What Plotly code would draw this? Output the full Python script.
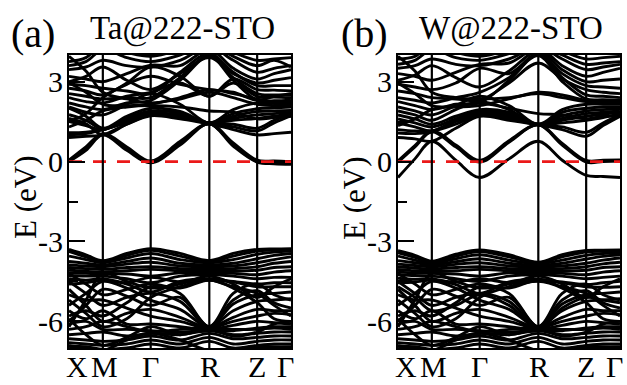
import plotly.graph_objects as go

# ---------------- data ----------------
K_LABELS = ["X", "M", "Γ", "R", "Z", "Γ"]
K_HS = [0.0, 0.5, 1.207, 2.073, 2.780, 3.280]      # high-symmetry k positions
Y_TICKS = [-6, -3, 0, 3]
Y_TICKTEXT = ["-6", "-3", "0", "3"]
Y_MINOR = [-4.5, -1.5, 1.5]
PANEL_TAGS = ["(a)", "(b)"]
PANEL_TITLES = ["Ta@222-STO", "W@222-STO"]
E_FERMI = 0.0

# energies (eV) at X, mid, M, mid, Γ, mid, R, mid, Z, mid, Γ
CB_A = [
    [0.00, 0.42, 1.00, 0.42, -0.05, 0.62, 1.42, 0.58, -0.02, -0.08, -0.10],
    [0.02, 0.48, 1.02, 0.48, -0.02, 0.68, 1.42, 0.64, 0.02, -0.02, -0.04],
    [0.05, 0.55, 1.05, 0.55, 0.02, 0.75, 1.42, 0.70, 0.05, 0.02, 0.00],
    [0.90, 0.95, 1.00, 1.40, 1.72, 1.60, 1.42, 1.30, 1.15, 1.45, 1.72],
    [1.00, 1.05, 1.20, 1.45, 1.75, 1.65, 1.42, 1.20, 1.00, 1.05, 1.10],
    [1.08, 1.10, 1.20, 1.50, 1.78, 1.68, 1.45, 1.40, 1.25, 1.55, 1.78],
    [1.50, 1.35, 1.20, 1.55, 1.82, 1.72, 1.45, 1.55, 1.62, 1.70, 1.82],
    [1.62, 1.42, 1.00, 1.40, 1.76, 1.76, 1.45, 1.62, 1.75, 1.80, 1.85],
    [1.76, 1.55, 1.22, 1.62, 1.90, 1.82, 1.42, 1.70, 1.88, 1.90, 1.92],
    [2.00, 1.70, 1.25, 1.70, 2.00, 1.88, 1.45, 1.80, 1.98, 2.02, 2.05],
    [2.05, 1.85, 1.75, 2.15, 2.55, 2.15, 1.45, 1.95, 2.20, 2.18, 2.15],
    [2.20, 2.05, 1.95, 2.20, 2.30, 3.05, 3.95, 3.05, 2.30, 2.28, 2.30],
    [2.40, 2.25, 2.20, 2.45, 2.60, 2.95, 2.45, 2.95, 2.45, 2.42, 2.40],
    [2.55, 2.45, 2.35, 2.40, 2.40, 3.15, 3.98, 3.15, 2.55, 2.50, 2.50],
    [2.75, 2.65, 2.50, 2.95, 3.55, 3.20, 2.45, 3.10, 2.70, 2.68, 2.65],
    [2.90, 2.85, 2.75, 2.65, 2.55, 3.35, 4.05, 3.35, 2.85, 2.85, 2.85],
    [3.00, 3.20, 3.55, 3.05, 2.70, 3.30, 3.90, 3.30, 2.95, 3.05, 3.15],
    [3.20, 3.10, 3.00, 3.30, 3.62, 3.60, 4.20, 3.50, 3.10, 3.30, 3.45],
    [3.45, 3.55, 3.80, 3.60, 3.55, 3.80, 4.30, 3.80, 3.35, 3.50, 3.60],
    [3.60, 3.75, 4.20, 3.90, 3.75, 4.00, 4.40, 3.95, 3.60, 3.80, 3.55],
    [3.75, 3.90, 4.40, 4.10, 3.95, 4.20, 4.50, 4.10, 3.80, 3.85, 3.90],
    [3.95, 3.40, 2.60, 2.35, 2.20, 2.35, 2.60, 2.40, 2.15, 2.10, 2.10],
    [1.30, 1.55, 1.90, 2.05, 2.10, 2.05, 1.90, 1.85, 1.60, 1.65, 1.70],
    [2.95, 2.60, 2.15, 2.10, 2.15, 2.40, 2.70, 2.55, 2.35, 2.25, 2.25],
    [1.50, 1.80, 2.40, 2.90, 3.20, 2.90, 2.70, 2.60, 2.30, 2.45, 2.55],
]

VB_A = [
    [-3.30, -3.50, -3.72, -3.45, -3.27, -3.45, -3.72, -3.45, -3.30, -3.28, -3.27],
    [-3.38, -3.58, -3.75, -3.52, -3.33, -3.55, -3.75, -3.55, -3.36, -3.33, -3.31],
    [-3.55, -3.68, -3.80, -3.62, -3.45, -3.68, -3.80, -3.68, -3.48, -3.40, -3.36],
    [-3.75, -3.82, -3.88, -3.75, -3.62, -3.82, -3.88, -3.82, -3.65, -3.52, -3.45],
    [-3.88, -3.92, -3.95, -3.85, -3.78, -3.92, -3.95, -3.92, -3.80, -3.68, -3.58],
    [-3.98, -4.02, -4.05, -3.98, -3.95, -4.02, -4.05, -4.02, -3.95, -3.82, -3.75],
    [-4.08, -4.12, -4.15, -4.10, -4.05, -4.10, -4.12, -4.12, -4.08, -3.98, -3.95],
    [-4.18, -4.20, -4.22, -4.22, -4.30, -4.18, -4.18, -4.20, -4.25, -4.15, -4.10],
    [-4.28, -4.30, -4.30, -4.40, -4.55, -4.30, -4.25, -4.30, -4.40, -4.35, -4.35],
    [-4.40, -4.45, -4.40, -4.60, -4.90, -4.50, -4.40, -4.50, -4.60, -4.55, -4.55],
    [-4.60, -4.55, -4.45, -4.55, -4.35, -4.52, -4.45, -4.52, -4.70, -4.70, -4.70],
    [-4.50, -4.95, -5.40, -5.10, -4.95, -5.25, -6.20, -5.35, -5.00, -4.95, -4.90],
    [-5.40, -4.95, -4.50, -4.75, -5.20, -5.55, -6.20, -5.60, -5.25, -5.20, -5.15],
    [-4.80, -5.40, -6.00, -5.70, -5.55, -5.85, -6.22, -5.85, -5.55, -5.60, -5.60],
    [-6.00, -5.40, -4.80, -5.05, -5.40, -5.10, -6.20, -5.20, -4.85, -5.30, -5.50],
    [-5.00, -5.20, -5.20, -5.50, -5.80, -6.00, -6.25, -6.00, -5.80, -5.70, -5.75],
    [-5.20, -5.70, -6.20, -5.90, -5.10, -4.70, -4.45, -4.75, -5.30, -5.90, -6.00],
    [-5.60, -5.90, -5.60, -6.10, -6.10, -6.20, -6.30, -6.15, -6.00, -6.05, -6.10],
    [-5.80, -5.60, -5.80, -5.30, -4.70, -4.95, -6.20, -4.95, -4.60, -5.00, -5.20],
    [-6.10, -6.00, -6.30, -6.30, -6.35, -6.40, -6.35, -6.35, -6.25, -6.20, -6.20],
    [-6.30, -6.20, -6.00, -6.20, -6.40, -6.30, -6.25, -6.30, -6.30, -6.25, -6.30],
    [-6.50, -6.45, -6.40, -6.55, -6.45, -6.50, -6.35, -6.50, -6.45, -6.40, -6.40],
    [-6.65, -6.70, -6.75, -6.70, -6.55, -6.70, -6.45, -6.65, -6.60, -6.55, -6.55],
    [-6.80, -6.85, -6.90, -6.85, -6.70, -6.85, -6.60, -6.85, -6.75, -6.70, -6.70],
    [-6.95, -6.95, -7.05, -7.00, -6.85, -7.00, -6.75, -7.00, -6.90, -6.85, -6.85],
    [-6.90, -7.00, -7.10, -6.70, -6.45, -6.70, -7.10, -7.05, -6.95, -6.95, -6.95],
    [-4.20, -4.60, -5.00, -4.80, -4.60, -4.75, -4.45, -4.70, -4.95, -5.40, -5.80],
    [-6.20, -5.20, -4.20, -4.50, -4.75, -4.60, -4.30, -4.60, -5.10, -4.70, -4.40],
    [-5.90, -6.50, -6.90, -6.60, -6.20, -6.50, -6.30, -6.55, -6.40, -6.10, -6.00],
]

CB_B = [
    [-0.60, 0.10, 0.76, 0.05, -0.60, 0.10, 0.76, 0.05, -0.52, -0.56, -0.60],
    [-0.02, 0.55, 1.12, 0.55, -0.02, 0.72, 1.38, 0.62, -0.02, 0.00, 0.02],
    [0.02, 0.60, 1.15, 0.62, 0.04, 0.78, 1.38, 0.68, 0.04, 0.05, 0.06],
    [0.90, 0.85, 0.76, 1.25, 1.70, 1.55, 1.38, 1.20, 0.95, 1.35, 1.70],
    [1.07, 1.05, 1.12, 1.40, 1.75, 1.62, 1.38, 1.30, 1.10, 1.45, 1.75],
    [1.20, 1.15, 1.15, 1.50, 1.80, 1.68, 1.40, 1.45, 1.55, 1.65, 1.80],
    [1.45, 1.30, 1.15, 1.55, 1.85, 1.72, 1.40, 1.55, 1.70, 1.78, 1.85],
    [1.60, 1.45, 1.30, 1.60, 1.90, 1.78, 1.38, 1.62, 1.80, 1.85, 1.90],
    [1.75, 1.60, 1.40, 1.70, 1.95, 1.85, 1.40, 1.72, 1.90, 1.95, 1.98],
    [1.90, 1.75, 1.55, 1.95, 2.25, 1.95, 1.38, 1.85, 2.00, 2.05, 2.05],
    [2.05, 1.90, 1.75, 2.10, 2.45, 2.10, 1.40, 1.95, 2.15, 2.15, 2.15],
    [2.25, 2.10, 1.95, 2.15, 2.20, 3.05, 3.98, 3.00, 2.35, 2.32, 2.30],
    [2.40, 2.30, 2.20, 2.40, 2.60, 3.15, 4.02, 3.15, 2.50, 2.45, 2.40],
    [2.65, 2.55, 2.40, 2.35, 2.30, 2.95, 3.70, 3.10, 2.70, 2.60, 2.55],
    [2.90, 2.80, 2.70, 2.95, 3.50, 3.30, 4.05, 3.30, 2.85, 2.80, 2.75],
    [3.05, 3.25, 3.60, 3.15, 2.80, 3.40, 4.15, 3.45, 3.00, 3.05, 3.10],
    [3.30, 3.20, 3.05, 3.35, 3.65, 3.70, 4.25, 3.60, 3.20, 3.35, 3.50],
    [3.50, 3.60, 3.85, 3.65, 3.60, 3.85, 4.30, 3.85, 3.45, 3.55, 3.65],
    [3.65, 3.80, 4.20, 3.90, 3.80, 4.05, 4.40, 4.00, 3.65, 3.70, 3.75],
    [3.85, 3.95, 4.40, 4.10, 3.95, 4.20, 4.50, 4.15, 3.85, 3.90, 3.95],
    [3.95, 3.40, 2.60, 2.40, 2.35, 2.40, 2.55, 2.40, 2.25, 2.20, 2.20],
    [1.35, 1.60, 1.95, 2.10, 2.20, 2.00, 1.80, 1.75, 1.60, 1.70, 1.72],
    [2.95, 2.55, 2.10, 2.05, 2.10, 2.35, 2.60, 2.50, 2.30, 2.25, 2.25],
]

VB_B = [
    [-3.35, -3.52, -3.74, -3.48, -3.32, -3.50, -3.78, -3.50, -3.34, -3.33, -3.32],
    [-3.42, -3.60, -3.78, -3.55, -3.38, -3.58, -3.80, -3.58, -3.40, -3.37, -3.36],
    [-3.55, -3.70, -3.82, -3.65, -3.50, -3.70, -3.84, -3.70, -3.52, -3.45, -3.42],
    [-3.72, -3.80, -3.88, -3.76, -3.65, -3.82, -3.90, -3.82, -3.66, -3.56, -3.50],
    [-3.85, -3.90, -3.95, -3.86, -3.80, -3.92, -3.96, -3.92, -3.82, -3.70, -3.62],
    [-3.95, -4.00, -4.04, -3.98, -3.95, -4.02, -4.05, -4.02, -3.95, -3.84, -3.78],
    [-4.05, -4.10, -4.12, -4.10, -4.05, -4.10, -4.12, -4.12, -4.08, -3.98, -3.95],
    [-4.15, -4.18, -4.20, -4.22, -4.30, -4.18, -4.18, -4.20, -4.25, -4.15, -4.10],
    [-4.25, -4.28, -4.30, -4.40, -4.50, -4.30, -4.25, -4.30, -4.40, -4.35, -4.30],
    [-4.38, -4.42, -4.40, -4.62, -4.95, -4.52, -4.42, -4.52, -4.62, -4.55, -4.50],
    [-4.55, -4.52, -4.45, -4.52, -4.40, -4.55, -4.48, -4.55, -4.70, -4.72, -4.70],
    [-4.50, -4.95, -5.40, -5.10, -4.95, -5.25, -6.20, -5.35, -5.00, -4.95, -4.90],
    [-5.40, -4.95, -4.50, -4.75, -5.20, -5.55, -6.20, -5.60, -5.25, -5.20, -5.15],
    [-4.80, -5.40, -6.00, -5.70, -5.55, -5.85, -6.22, -5.85, -5.55, -5.60, -5.60],
    [-6.00, -5.40, -4.80, -5.05, -5.40, -5.10, -6.20, -5.20, -4.85, -5.30, -5.50],
    [-5.00, -5.20, -5.20, -5.50, -5.80, -6.00, -6.25, -6.00, -5.80, -5.70, -5.75],
    [-5.20, -5.70, -6.20, -5.90, -5.10, -4.70, -4.50, -4.75, -5.30, -5.90, -6.00],
    [-5.60, -5.90, -5.60, -6.10, -6.10, -6.20, -6.30, -6.15, -6.00, -6.05, -6.10],
    [-5.80, -5.60, -5.80, -5.30, -4.70, -4.95, -6.20, -4.95, -4.60, -5.00, -5.20],
    [-6.10, -6.00, -6.30, -6.30, -6.35, -6.40, -6.35, -6.35, -6.25, -6.20, -6.20],
    [-6.30, -6.20, -6.00, -6.20, -6.40, -6.30, -6.25, -6.30, -6.30, -6.25, -6.30],
    [-6.50, -6.45, -6.40, -6.55, -6.45, -6.50, -6.35, -6.50, -6.45, -6.40, -6.40],
    [-6.65, -6.70, -6.75, -6.70, -6.55, -6.70, -6.45, -6.65, -6.60, -6.55, -6.55],
    [-6.80, -6.85, -6.90, -6.85, -6.70, -6.85, -6.60, -6.85, -6.75, -6.70, -6.70],
    [-6.95, -6.95, -7.05, -7.00, -6.85, -7.00, -6.75, -7.00, -6.90, -6.85, -6.85],
    [-6.90, -7.00, -7.10, -6.70, -6.45, -6.70, -7.10, -7.05, -6.95, -6.95, -6.95],
    [-4.20, -4.60, -5.00, -4.80, -4.60, -4.75, -4.45, -4.70, -4.95, -5.40, -5.80],
    [-6.20, -5.20, -4.20, -4.50, -4.75, -4.60, -4.30, -4.60, -5.10, -4.70, -4.40],
    [-5.90, -6.50, -6.90, -6.60, -6.20, -6.50, -6.30, -6.55, -6.40, -6.10, -6.00],
    [-4.70, -5.10, -5.60, -5.40, -5.00, -5.40, -6.25, -5.50, -5.10, -5.20, -5.30],
]

# ---------------- figure ----------------
# k grid: high-symmetry points and segment midpoints
K_GRID = []
for i in range(len(K_HS) - 1):
    K_GRID += [K_HS[i], 0.5 * (K_HS[i] + K_HS[i + 1])]
K_GRID.append(K_HS[-1])

# pixel nudges for the k-point labels (edge labels pulled inward, as typeset)
K_LABEL_SHIFT = [8, 2, 0, 1, 0, -6]

FONT = "Liberation Serif"
X_DOMAINS = [[69 / 627, 291 / 627], [398 / 627, 620 / 627]]
Y_DOMAIN = [1 - 348 / 385, 1 - 55 / 385]

fig = go.Figure()


def band_trace(bands, xa, ya):
    xs, ys = [], []
    for b in bands:
        xs += K_GRID + [None]
        ys += b + [None]
    return go.Scatter(x=xs, y=ys, mode="lines", xaxis=xa, yaxis=ya,
                      line=dict(color="black", width=2.9, shape="spline", smoothing=1.0),
                      hoverinfo="skip", showlegend=False)


panels = [(CB_A + VB_A, "x", "y"), (CB_B + VB_B, "x2", "y2")]
for bands, xa, ya in panels:
    fig.add_trace(band_trace(bands, xa, ya))
    fig.add_trace(go.Scatter(x=[K_HS[0], K_HS[-1]], y=[E_FERMI, E_FERMI], mode="lines",
                             xaxis=xa, yaxis=ya,
                             line=dict(color="rgb(235,25,25)", width=2.8, dash="13px,11px"),
                             hoverinfo="skip", showlegend=False))
    for k in K_HS[1:-1]:
        fig.add_shape(type="line", xref=xa, yref=ya + " domain", x0=k, x1=k, y0=0, y1=1,
                      line=dict(color="black", width=2.2))

axis_common = dict(showline=True, linecolor="black", linewidth=2.2, mirror=True,
                   showgrid=False, zeroline=False, automargin=False)
for i, (xname, yname) in enumerate([("xaxis", "yaxis"), ("xaxis2", "yaxis2")]):
    fig.layout[xname] = dict(axis_common, domain=X_DOMAINS[i],
                             range=[K_HS[0], K_HS[-1]], tickmode="array",
                             tickvals=K_HS, ticks="", showticklabels=False,
                             anchor="y" if i == 0 else "y2")
    fig.layout[yname] = dict(axis_common, domain=Y_DOMAIN, range=[-7, 4],
                             tickmode="array", tickvals=Y_TICKS, ticktext=Y_TICKTEXT,
                             ticks="inside", ticklen=16, tickwidth=2, tickcolor="black",
                             ticklabelstandoff=-2,
                             minor=dict(tickmode="array", tickvals=Y_MINOR, ticks="inside",
                                        ticklen=9, tickwidth=2, tickcolor="black"),
                             tickfont=dict(family=FONT, size=30, color="black"),
                             anchor="x" if i == 0 else "x2")

ann = []
for i in range(2):
    left = X_DOMAINS[i][0]
    xref = "x" if i == 0 else "x2"
    for k, lab, dx in zip(K_HS, K_LABELS, K_LABEL_SHIFT):
        ann.append(dict(text=lab, x=k, xref=xref, y=1 - 366 / 385, yref="paper",
                        xshift=dx, showarrow=False, xanchor="center", yanchor="middle",
                        borderpad=0,
                        font=dict(family=FONT, size=30, color="black")))
    ann.append(dict(text=PANEL_TAGS[i], x=[33, 364][i] / 627, y=1 - 33 / 385,
                    xref="paper", yref="paper", showarrow=False, xanchor="center",
                    yanchor="middle", font=dict(family=FONT, size=40, color="black")))
    ann.append(dict(text=PANEL_TITLES[i], x=[182, 511][i] / 627, y=1 - 28 / 385,
                    xref="paper", yref="paper", showarrow=False, xanchor="center",
                    yanchor="middle", font=dict(family=FONT, size=33, color="black")))
    ann.append(dict(text="E (eV)", x=left - 43 / 627, y=1 - 198 / 385, textangle=-90,
                    xref="paper", yref="paper", showarrow=False, xanchor="center",
                    yanchor="middle", font=dict(family=FONT, size=31, color="black")))

fig.update_layout(width=627, height=385, margin=dict(l=0, r=0, t=0, b=0),
                  paper_bgcolor="white", plot_bgcolor="white", annotations=ann,
                  hovermode=False)

fig.write_html("out.html", config={"displayModeBar": False},
               post_script="document.body.style.margin='0px';")
